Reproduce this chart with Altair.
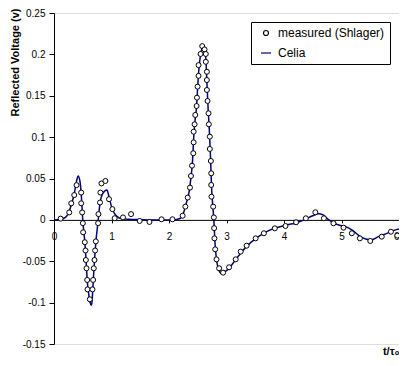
import altair as alt
import pandas as pd

# ---------------- data ----------------
series_names = ["measured (Shlager)", "Celia"]

meas_t = [0.115, 0.265, 0.300, 0.352, 0.392, 0.473, 0.473, 0.490, 0.502, 0.507,
          0.536, 0.548, 0.554, 0.565, 0.577, 0.583, 0.623, 0.669, 0.680, 0.692,
          0.704, 0.715, 0.727, 0.767, 0.773, 0.800, 0.807, 0.825, 0.894, 0.957,
          1.015, 1.055, 1.20, 1.34, 1.49, 1.66, 1.87, 2.06, 2.237, 2.284,
          2.325, 2.365, 2.382, 2.400, 2.422, 2.428, 2.428, 2.445, 2.457, 2.480,
          2.486, 2.497, 2.514, 2.514, 2.549, 2.578, 2.618, 2.640, 2.640, 2.659,
          2.659, 2.659, 2.670, 2.687, 2.693, 2.710, 2.710, 2.728, 2.734, 2.734,
          2.739, 2.768, 2.780, 2.785, 2.790, 2.803, 2.826, 2.872, 2.941, 3.045,
          3.160, 3.247, 3.350, 3.507, 3.650, 3.840, 4.026, 4.210, 4.380, 4.545,
          4.694, 4.860, 5.035, 5.180, 5.320, 5.500, 5.700, 5.860, 5.970]
meas_v = [0.0015, 0.009, 0.020, 0.030, 0.042, 0.033, 0.020, 0.009, -0.004, -0.015,
          -0.027, -0.037, -0.0485, -0.0585, -0.0726, -0.084, -0.096, -0.084, -0.0726, -0.0585,
          -0.0485, -0.037, -0.026, -0.004, 0.007, 0.021, 0.033, 0.044, 0.047, 0.025,
          0.013, 0.002, 0.003, 0.007, -0.0013, -0.0025, 0.0007, 0.0007, 0.005, 0.016,
          0.027, 0.039, 0.053, 0.0655, 0.0805, 0.0937, 0.1066, 0.1155, 0.1268, 0.1376,
          0.1477, 0.161, 0.174, 0.187, 0.2005, 0.210, 0.206, 0.2005, 0.191, 0.179,
          0.169, 0.157, 0.1437, 0.1288, 0.1155, 0.1006, 0.0857, 0.0712, 0.0563, 0.0422,
          0.028, 0.016, 0.003, -0.010, -0.0223, -0.0356, -0.0477, -0.0585, -0.0638, -0.0573,
          -0.0477, -0.0384, -0.0312, -0.0223, -0.0162, -0.0102, -0.0074, -0.0029, 0.0019, 0.0092,
          0.0019, -0.0041, -0.0094, -0.0162, -0.0223, -0.0255, -0.0203, -0.0143, -0.019]

celia_t = [0.0, 0.1, 0.2, 0.25, 0.3, 0.35, 0.38, 0.4, 0.42, 0.45,
           0.47, 0.49, 0.5, 0.52, 0.54, 0.56, 0.58, 0.61, 0.64, 0.655,
           0.67, 0.69, 0.71, 0.73, 0.76, 0.8, 0.85, 0.92, 0.96, 1.0,
           1.05, 1.1, 1.15, 1.3, 1.5, 1.7, 1.9, 2.1, 2.2, 2.25,
           2.3, 2.35, 2.38, 2.41, 2.43, 2.45, 2.48, 2.5, 2.52, 2.55,
           2.59, 2.62, 2.64, 2.66, 2.68, 2.7, 2.72, 2.74, 2.76, 2.78,
           2.8, 2.83, 2.87, 2.92, 2.97, 3.05, 3.15, 3.25, 3.35, 3.5,
           3.65, 3.8, 3.95, 4.05, 4.2, 4.35, 4.5, 4.6, 4.68, 4.78,
           4.9, 5.0, 5.1, 5.2, 5.3, 5.42, 5.52, 5.65, 5.8, 5.9, 6.0]
celia_v = [0.0, 0.0005, 0.003, 0.008, 0.018, 0.031, 0.042, 0.049, 0.053, 0.047,
           0.035, 0.012, 0.0, -0.015, -0.030, -0.052, -0.075, -0.093, -0.102, -0.103,
           -0.090, -0.065, -0.043, -0.025, -0.006, 0.020, 0.032, 0.036, 0.027, 0.016,
           0.008, 0.004, 0.002, 0.0008, 0.0003, 0.0, 0.0, 0.0003, 0.002, 0.008,
           0.020, 0.034, 0.050, 0.072, 0.100, 0.118, 0.138, 0.162, 0.182, 0.200,
           0.209, 0.206, 0.196, 0.165, 0.135, 0.110, 0.080, 0.040, 0.018, 0.0,
           -0.028, -0.050, -0.061, -0.065, -0.063, -0.058, -0.049, -0.040, -0.032, -0.023,
           -0.016, -0.011, -0.008, -0.006, -0.004, 0.0, 0.005, 0.0075, 0.006, 0.0,
           -0.005, -0.007, -0.009, -0.013, -0.019, -0.023, -0.024, -0.020, -0.016, -0.013, -0.011]

x_ticks = [0, 1, 2, 3, 4, 5, 6]
y_ticks = [-0.15, -0.1, -0.05, 0, 0.05, 0.1, 0.15, 0.2, 0.25]
# ---------------------------------------------------------------

meas = pd.DataFrame({"t": meas_t, "v": meas_v, "series": series_names[0]})
celia = pd.DataFrame({"t": celia_t, "v": celia_v, "series": series_names[1]})

W, H = 345, 331
FONT = "Liberation Sans"

x_scale = alt.Scale(domain=[0, 6], nice=False, zero=False)
y_scale = alt.Scale(domain=[-0.15, 0.25], nice=False, zero=False)

x_axis = alt.Axis(values=x_ticks, title="t/τ₀", offset=-H * 0.15 / 0.4,
                  grid=False, tickSize=3, labelPadding=9, labelFlush=False,
                  labelAlign={"condition": {"test": "datum.value >= 6", "value": "right"},
                              "value": "center"},
                  labelFontSize=10, labelFont=FONT, labelColor="black",
                  domainColor="black", tickColor="black",
                  titleFont=FONT, titleFontSize=11, titleFontWeight="bold", titleColor="black",
                  titleX=W, titleY=132, titleAlign="right", titleBaseline="middle")
y_axis = alt.Axis(values=y_ticks, title="Reflected Voltage (v)", grid=False,
                  tickSize=5, labelPadding=4, labelFontSize=10, labelFont=FONT,
                  labelColor="black", labelExpr="toString(datum.value)",
                  domainColor="black", tickColor="black",
                  titleFont=FONT, titleFontSize=11, titleFontWeight="bold", titleColor="black",
                  titleAngle=270, titleX=-39, titleY=49, titleAlign="center",
                  titleBaseline="middle")

legend = alt.Legend(title=None, orient="none", legendX=197, legendY=9,
                    padding=5, strokeColor="black", fillColor="white",
                    labelFont=FONT, labelFontSize=12, labelColor="black",
                    symbolSize=25, symbolStrokeWidth=1.2, symbolOffset=4,
                    labelOffset=6, rowPadding=8, cornerRadius=0)

color_scale = alt.Scale(domain=series_names, range=["black", "#000080"])
shape_scale = alt.Scale(domain=series_names, range=["circle", "M-2,0H2"])

line = alt.Chart(celia).mark_line(strokeWidth=1.5, interpolate="monotone").encode(
    x=alt.X("t:Q", scale=x_scale, axis=x_axis),
    y=alt.Y("v:Q", scale=y_scale, axis=y_axis),
    color=alt.Color("series:N", scale=color_scale, legend=legend),
)

points = alt.Chart(meas).mark_point(filled=False, fill="white", fillOpacity=1,
                                    opacity=1, size=25, strokeWidth=1).encode(
    x=alt.X("t:Q", scale=x_scale, axis=x_axis),
    y=alt.Y("v:Q", scale=y_scale, axis=y_axis),
    color=alt.Color("series:N", scale=color_scale, legend=legend),
    shape=alt.Shape("series:N", scale=shape_scale, legend=legend),
)

chart = alt.layer(line, points).properties(
    width=W, height=H,
    autosize=alt.AutoSizeParams(type="none"),
    padding={"left": 46, "top": 5, "right": 0, "bottom": 14},
).configure_view(stroke="black", strokeWidth=1).configure(background="white")

chart.save("out.html", embed_options={"renderer": "svg", "actions": False})
